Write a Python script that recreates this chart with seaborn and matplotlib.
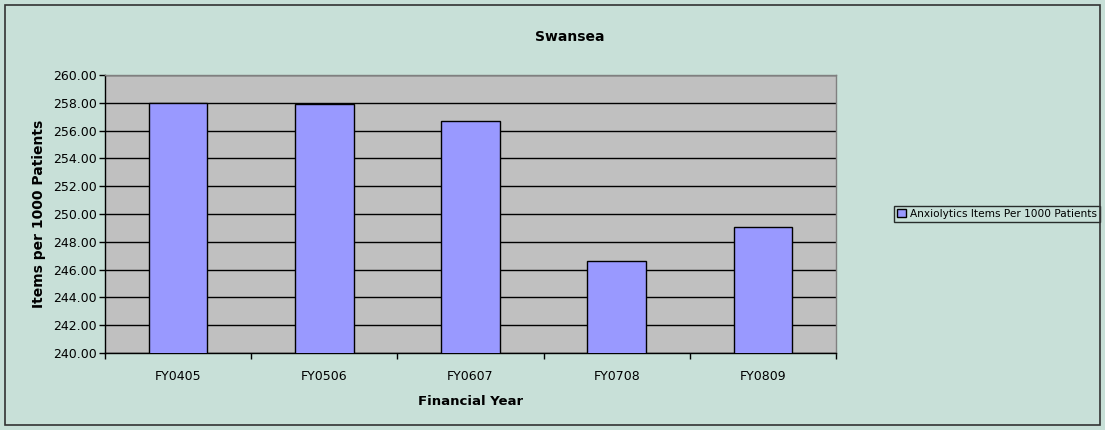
import matplotlib
matplotlib.use("Agg")
import matplotlib.pyplot as plt
import seaborn as sns
import pandas as pd
from matplotlib.patches import Rectangle

years = ["FY0405", "FY0506", "FY0607", "FY0708", "FY0809"]
items_per_1000 = [258.00, 257.93, 256.70, 246.60, 249.10]
series_name = "Anxiolytics Items Per 1000 Patients"
y_ticks = [240, 242, 244, 246, 248, 250, 252, 254, 256, 258, 260]

sns.set_theme(style="white")
plt.rcParams['font.family'] = ['DejaVu Sans']
plt.rcParams['text.color'] = 'black'
plt.rcParams['axes.labelcolor'] = 'black'
plt.rcParams['xtick.color'] = 'black'
plt.rcParams['ytick.color'] = 'black'

bg = "#C8E0D8"
fig = plt.figure(figsize=(11.05, 4.30), dpi=100, facecolor=bg)
ax = fig.add_axes([105/1105, 1-353/430, (836-105)/1105, (353-75)/430])
ax.set_facecolor("#C0C0C0")

df = pd.DataFrame({"year": years, "value": items_per_1000})
sns.barplot(data=df, x="year", y="value", color="#9999FF", saturation=1,
            edgecolor="black", linewidth=1.0, width=0.4, ax=ax,
            label=series_name, zorder=3)

ax.set_ylim(240, 260)
ax.set_xlim(-0.5, 4.5)
ax.set_yticks(y_ticks)
ax.set_yticklabels([f"{v:.2f}" for v in y_ticks], fontsize=9)
ax.yaxis.grid(True, color="black", linewidth=1.0, zorder=0)
ax.set_axisbelow(True)
ax.tick_params(axis="y", direction="out", length=4, width=1, color="black", left=True, pad=2)

ax.set_xticks(range(len(years)))
ax.set_xticklabels(years, fontsize=9)
ax.set_xticks([i - 0.5 for i in range(len(years) + 1)], minor=True)
ax.tick_params(axis="x", which="major", length=0, pad=12)
ax.tick_params(axis="x", which="minor", direction="out", length=4, width=1, color="black", bottom=True)

for s in ["left", "bottom"]:
    ax.spines[s].set_color("black")
    ax.spines[s].set_linewidth(1.0)
for s in ["top", "right"]:
    ax.spines[s].set_color("#808080")
    ax.spines[s].set_linewidth(1.0)

ax.set_xlabel("Financial Year", fontsize=9.5, fontweight="bold", labelpad=9)
ax.set_ylabel("Items per 1000 Patients", fontsize=10, fontweight="bold", labelpad=5)
fig.text(570/1105, 1-37/430, "Swansea", fontsize=10, fontweight="bold", ha="center", va="center")

leg = ax.legend(loc="center left", bbox_to_anchor=(894/1105, 1-214/430), bbox_transform=fig.transFigure,
                fontsize=7.6, frameon=True, fancybox=False, borderpad=0.3, handlelength=0.8,
                handleheight=0.8, handletextpad=0.4, borderaxespad=0)
leg.get_frame().set_facecolor(bg)
leg.get_frame().set_edgecolor("black")
leg.get_frame().set_linewidth(1.0)

fig.patches.append(Rectangle((5/1105, 5/430), 1095/1105, 420/430, transform=fig.transFigure,
                             fill=False, edgecolor="#333333", linewidth=1.2))

fig.savefig("out.png", dpi=100, facecolor=bg)
